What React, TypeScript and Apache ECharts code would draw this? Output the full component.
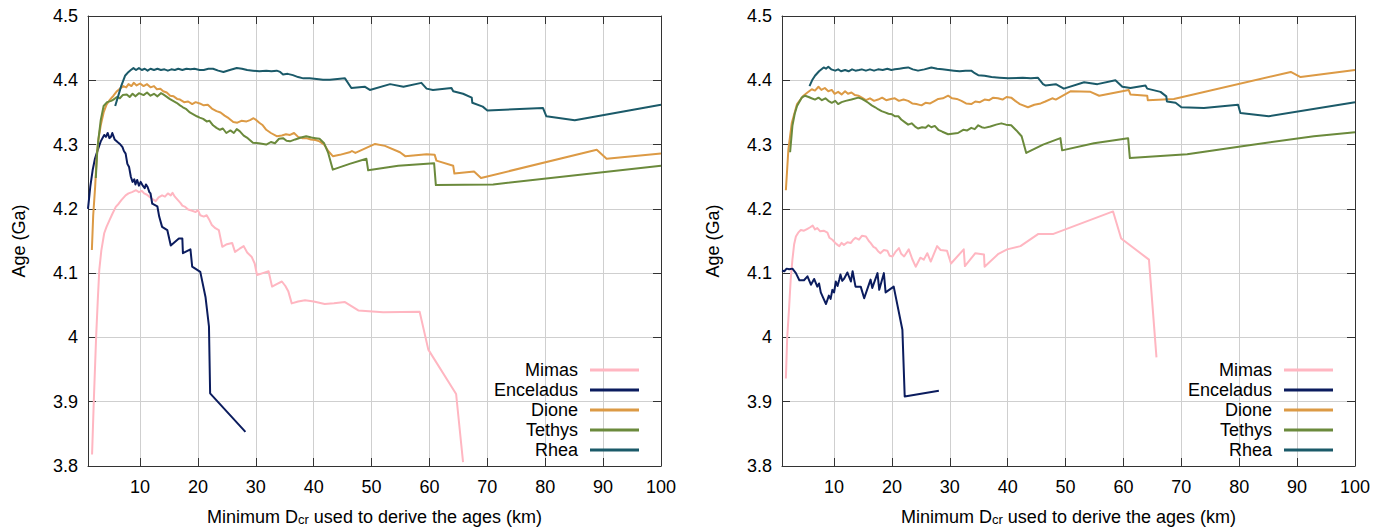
import { useEffect, useRef } from "react";
import * as echarts from "echarts";

type Pt = [number, number];

const seriesNames = ["Mimas", "Enceladus", "Dione", "Tethys", "Rhea"];
const seriesColors = ["#ffb6c1", "#0b1c5e", "#dc9a45", "#6b8a3c", "#1b5a69"];
const xTickValues = [10, 20, 30, 40, 50, 60, 70, 80, 90, 100];
const xRange = [1, 100];
const yRange = [3.8, 4.5];
const yStep = 0.1;
const xTitleRich = "{a|Minimum D}{s|cr}{a|\u00a0used to derive the ages (km)}";
const yTitle = "Age (Ga)";

// ---- left panel ----
const mimasLeft: Pt[] = [
  [1.7, 3.818], [2.0, 3.9], [2.4, 4.0], [2.7, 4.06], [2.95, 4.105], [3.3, 4.135], [3.8, 4.162],
  [4.2, 4.172], [4.7, 4.182], [5.2, 4.192], [5.8, 4.203], [6.3, 4.208], [6.8, 4.214], [7.5, 4.221],
  [8.0, 4.224], [8.6, 4.226], [9.3, 4.229], [9.8, 4.226], [10.3, 4.228], [10.7, 4.224], [11.2, 4.222],
  [11.7, 4.218], [12.2, 4.215], [12.7, 4.212], [13.2, 4.218], [13.8, 4.221], [14.3, 4.219], [14.8, 4.224],
  [15.3, 4.221], [15.6, 4.225], [16.0, 4.219], [16.5, 4.214], [17.0, 4.209], [17.3, 4.205], [17.8, 4.203],
  [18.3, 4.199], [19.0, 4.197], [19.6, 4.195], [20.0, 4.198], [20.4, 4.19], [21.0, 4.188], [21.5, 4.19],
  [21.9, 4.184], [22.4, 4.175], [23.0, 4.17], [23.6, 4.167], [24.2, 4.141], [25.0, 4.145], [25.9, 4.147],
  [26.4, 4.133], [27.2, 4.138], [27.9, 4.142], [28.5, 4.132], [29.3, 4.125], [29.8, 4.115], [30.2, 4.097],
  [31.2, 4.1], [32.2, 4.103], [32.8, 4.079], [33.6, 4.083], [34.5, 4.087], [35.1, 4.08], [35.6, 4.072],
  [36.2, 4.053], [37.3, 4.056], [38.5, 4.058], [40.0, 4.056], [41.9, 4.052], [43.5, 4.053], [45.4, 4.055],
  [47.7, 4.042], [52, 4.039], [58.3, 4.04], [59.8, 3.981], [64.6, 3.912], [65.8, 3.806],
];
const enceladusLeft: Pt[] = [
  [1.0, 4.2], [1.4, 4.235], [1.8, 4.26], [2.2, 4.278], [2.66, 4.291], [3.2, 4.305], [3.8, 4.315],
  [4.1, 4.312], [4.4, 4.318], [4.7, 4.31], [4.96, 4.312], [5.2, 4.318], [5.6, 4.308], [6.1, 4.304],
  [6.5, 4.301], [6.96, 4.296], [7.2, 4.29], [7.5, 4.286], [7.8, 4.27], [8.1, 4.265], [8.4, 4.25],
  [8.7, 4.242], [9.0, 4.246], [9.2, 4.238], [9.5, 4.245], [9.8, 4.236], [10.1, 4.242], [10.4, 4.237],
  [10.8, 4.232], [11.0, 4.238], [11.3, 4.234], [11.6, 4.226], [11.8, 4.224], [12.1, 4.208], [12.98, 4.204],
  [13.3, 4.188], [13.8, 4.172], [14.7, 4.167], [15.3, 4.143], [16.7, 4.154], [17.3, 4.154], [17.4, 4.131],
  [18.7, 4.137], [19.0, 4.11], [20.4, 4.102], [21.3, 4.063], [21.9, 4.017], [22.1, 3.913], [28.2, 3.853],
];
const dioneLeft: Pt[] = [
  [1.67, 4.136], [1.9, 4.19], [2.24, 4.235], [2.5, 4.28], [2.8, 4.308], [3.2, 4.33], [3.7, 4.35],
  [4.2, 4.362], [4.8, 4.37], [5.4, 4.376], [6.0, 4.383], [6.5, 4.387], [7.1, 4.391], [7.6, 4.389],
  [8.0, 4.394], [8.5, 4.391], [8.9, 4.396], [9.4, 4.392], [10.0, 4.395], [10.6, 4.391], [11.2, 4.394],
  [11.8, 4.389], [12.4, 4.391], [12.9, 4.386], [13.5, 4.387], [14.0, 4.383], [14.6, 4.381], [15.2, 4.376],
  [15.8, 4.375], [16.4, 4.371], [16.9, 4.37], [17.6, 4.366], [18.3, 4.367], [19.0, 4.363], [19.6, 4.366],
  [20.3, 4.364], [21.0, 4.361], [21.7, 4.362], [22.4, 4.356], [23.2, 4.352], [23.9, 4.35], [24.6, 4.345],
  [25.3, 4.341], [26.1, 4.335], [26.8, 4.334], [27.5, 4.337], [28.4, 4.336], [29.0, 4.338], [29.6, 4.341],
  [30.1, 4.338], [30.6, 4.334], [31.2, 4.33], [31.8, 4.323], [32.6, 4.318], [33.6, 4.313], [34.5, 4.314],
  [35.2, 4.316], [35.9, 4.315], [36.6, 4.318], [37.3, 4.312], [38.0, 4.31], [38.7, 4.31], [39.5, 4.308],
  [40.3, 4.307], [41.0, 4.305], [41.8, 4.3], [42.5, 4.29], [43.3, 4.282], [44.5, 4.284], [46.2, 4.288],
  [46.6, 4.29], [47.2, 4.287], [50.6, 4.301], [52.3, 4.298], [54.9, 4.288], [55.8, 4.282], [59.5, 4.285],
  [60.9, 4.284], [61.2, 4.275], [64.1, 4.267], [64.3, 4.255], [67.7, 4.258], [68.9, 4.248], [88.9, 4.292],
  [90.6, 4.278], [100, 4.286],
];
const tethysLeft: Pt[] = [
  [2.35, 4.248], [2.6, 4.29], [2.8, 4.308], [3.2, 4.338], [3.7, 4.36], [4.3, 4.366], [5.0, 4.368],
  [5.4, 4.37], [6.0, 4.374], [6.5, 4.372], [7.0, 4.377], [7.7, 4.378], [8.2, 4.374], [8.7, 4.379],
  [9.2, 4.375], [9.8, 4.38], [10.6, 4.377], [11.2, 4.381], [11.8, 4.376], [12.4, 4.379], [13.0, 4.375],
  [13.6, 4.38], [14.0, 4.378], [14.5, 4.375], [15.1, 4.371], [15.7, 4.368], [16.3, 4.365], [16.9, 4.361],
  [17.4, 4.358], [18.0, 4.355], [18.6, 4.35], [19.2, 4.347], [19.8, 4.344], [20.3, 4.342], [20.9, 4.34],
  [21.5, 4.336], [22.0, 4.337], [22.6, 4.33], [23.2, 4.326], [23.8, 4.323], [24.3, 4.325], [24.9, 4.318],
  [25.6, 4.322], [26.2, 4.318], [26.7, 4.324], [27.2, 4.321], [27.9, 4.314], [28.6, 4.31], [29.5, 4.303],
  [30.5, 4.302], [31.8, 4.3], [32.6, 4.304], [33.3, 4.302], [34.0, 4.309], [34.7, 4.31], [35.3, 4.306],
  [35.9, 4.305], [36.8, 4.308], [37.8, 4.311], [38.7, 4.313], [39.6, 4.311], [40.3, 4.31], [41.0, 4.309],
  [41.8, 4.302], [42.5, 4.287], [43.3, 4.261], [46.2, 4.27], [49.1, 4.278], [49.4, 4.26], [54.6, 4.267],
  [60.8, 4.271], [61.1, 4.237], [71, 4.238], [100, 4.267],
];
const rheaLeft: Pt[] = [
  [5.7, 4.36], [6.2, 4.375], [6.7, 4.39], [7.4, 4.407], [8.0, 4.413], [8.4, 4.416], [8.85, 4.419],
  [9.3, 4.416], [9.8, 4.419], [10.3, 4.416], [10.8, 4.418], [11.3, 4.415], [11.8, 4.418], [12.4, 4.416],
  [13.0, 4.418], [13.6, 4.416], [14.2, 4.417], [14.8, 4.415], [15.4, 4.417], [16.0, 4.416], [16.6, 4.418],
  [17.3, 4.416], [18.0, 4.418], [18.7, 4.417], [19.4, 4.418], [20.3, 4.416], [21.0, 4.416], [21.8, 4.418],
  [22.6, 4.418], [23.5, 4.415], [24.4, 4.413], [25.5, 4.416], [26.7, 4.419], [27.6, 4.418], [28.5, 4.416],
  [29.5, 4.415], [30.6, 4.414], [31.8, 4.415], [32.7, 4.414], [33.6, 4.415], [34.2, 4.413], [34.7, 4.409],
  [35.5, 4.41], [36.4, 4.408], [37.3, 4.405], [38.2, 4.403], [39.3, 4.403], [40.5, 4.402], [41.6, 4.401],
  [42.8, 4.401], [45.4, 4.403], [46.5, 4.388], [48.8, 4.39], [49.7, 4.385], [53.2, 4.394], [55.5, 4.39],
  [58.6, 4.396], [59.5, 4.387], [60.6, 4.385], [63.8, 4.388], [64.1, 4.383], [65.8, 4.379], [67.3, 4.373],
  [67.4, 4.365], [69.2, 4.359], [70, 4.353], [79.6, 4.357], [80.2, 4.344], [85.1, 4.338], [100, 4.362],
];

// ---- right panel ----
const mimasRight: Pt[] = [
  [1.67, 3.936], [1.9, 4.0], [2.24, 4.048], [2.5, 4.09], [2.8, 4.121], [3.1, 4.145], [3.4, 4.157],
  [3.8, 4.163], [4.25, 4.167], [4.8, 4.166], [5.4, 4.169], [5.8, 4.171], [6.3, 4.174], [6.7, 4.168],
  [7.1, 4.17], [7.6, 4.165], [8.2, 4.166], [8.85, 4.163], [9.2, 4.155], [9.7, 4.152], [10.2, 4.147],
  [10.6, 4.144], [10.9, 4.142], [11.3, 4.147], [11.7, 4.144], [12.3, 4.148], [12.9, 4.147], [13.3, 4.152],
  [13.7, 4.155], [14.3, 4.152], [14.8, 4.158], [15.5, 4.157], [16.0, 4.15], [16.3, 4.147], [16.8, 4.141],
  [17.2, 4.139], [17.6, 4.134], [18.0, 4.131], [18.6, 4.136], [19.2, 4.135], [19.6, 4.127], [20.1, 4.126],
  [20.6, 4.133], [21.2, 4.139], [21.6, 4.13], [22.1, 4.126], [22.9, 4.137], [23.5, 4.122], [24.1, 4.11],
  [24.9, 4.124], [25.5, 4.121], [26.1, 4.131], [26.7, 4.118], [27.8, 4.142], [28.4, 4.136], [29.5, 4.135],
  [30.2, 4.115], [32.4, 4.137], [32.6, 4.111], [34.4, 4.131], [35.9, 4.129], [36.0, 4.11], [38.4, 4.13],
  [39.9, 4.137], [42.2, 4.142], [45.3, 4.161], [47.9, 4.161], [58.2, 4.196], [59.6, 4.154], [64.4, 4.121],
  [65.7, 3.969],
];
const enceladusRight: Pt[] = [
  [1.0, 4.104], [1.4, 4.103], [1.8, 4.107], [2.24, 4.106], [2.8, 4.107], [3.4, 4.1], [4.0, 4.089],
  [4.8, 4.089], [5.4, 4.095], [6.0, 4.082], [6.55, 4.091], [7.1, 4.079], [7.4, 4.084], [7.7, 4.07],
  [8.1, 4.062], [8.6, 4.052], [9.1, 4.065], [9.4, 4.06], [9.7, 4.074], [10.0, 4.07], [10.3, 4.087],
  [10.6, 4.08], [10.9, 4.09], [11.1, 4.098], [11.4, 4.088], [11.7, 4.091], [12.0, 4.096], [12.3, 4.101],
  [12.6, 4.094], [12.9, 4.087], [13.2, 4.103], [13.7, 4.079], [14.6, 4.079], [15.2, 4.061], [16.3, 4.09],
  [16.6, 4.077], [17.5, 4.1], [17.8, 4.074], [18.6, 4.1], [18.9, 4.07], [20.3, 4.079], [21.8, 4.012],
  [22.2, 3.908], [28.1, 3.917],
];
const dioneRight: Pt[] = [
  [1.67, 4.229], [2.1, 4.292], [2.7, 4.334], [3.6, 4.363], [4.7, 4.376], [5.4, 4.381], [6.15, 4.386],
  [6.7, 4.384], [7.3, 4.39], [7.8, 4.385], [8.4, 4.388], [9.0, 4.383], [9.6, 4.385], [10.1, 4.379],
  [10.7, 4.382], [11.3, 4.378], [11.9, 4.383], [12.4, 4.379], [13.0, 4.381], [13.6, 4.377], [14.2, 4.376],
  [14.8, 4.373], [15.5, 4.369], [16.2, 4.372], [16.9, 4.368], [17.6, 4.37], [18.3, 4.373], [19.0, 4.369],
  [19.8, 4.371], [20.5, 4.372], [21.2, 4.368], [22.0, 4.37], [22.8, 4.368], [23.5, 4.364], [24.2, 4.363],
  [25.1, 4.361], [25.8, 4.365], [26.6, 4.364], [27.4, 4.368], [28.0, 4.371], [28.8, 4.372], [29.7, 4.376],
  [30.4, 4.372], [31.2, 4.371], [32.0, 4.368], [32.8, 4.364], [33.7, 4.363], [34.4, 4.367], [35.2, 4.366],
  [36.0, 4.37], [36.8, 4.369], [37.5, 4.373], [38.3, 4.372], [39.1, 4.37], [39.8, 4.374], [40.6, 4.373],
  [41.3, 4.368], [42.1, 4.363], [43.5, 4.358], [44.6, 4.362], [45.7, 4.364], [46.5, 4.367], [47.7, 4.372],
  [48.3, 4.37], [50.9, 4.383], [54.3, 4.382], [55.8, 4.376], [60.9, 4.385], [61.2, 4.378], [64.1, 4.376],
  [64.2, 4.369], [68.7, 4.371], [88.9, 4.413], [90.6, 4.405], [100, 4.416],
];
const tethysRight: Pt[] = [
  [2.4, 4.288], [2.8, 4.329], [3.2, 4.348], [3.6, 4.36], [4.4, 4.373], [5.0, 4.376], [5.6, 4.374],
  [6.1, 4.372], [6.7, 4.37], [7.3, 4.373], [7.9, 4.369], [8.5, 4.372], [9.0, 4.368], [9.6, 4.365],
  [10.2, 4.368], [10.7, 4.363], [11.3, 4.366], [12.0, 4.368], [13.0, 4.37], [14.2, 4.373], [14.8, 4.371],
  [15.4, 4.368], [15.9, 4.365], [16.5, 4.361], [17.1, 4.358], [17.6, 4.355], [18.2, 4.352], [18.8, 4.35],
  [19.4, 4.348], [20.0, 4.347], [20.5, 4.344], [21.1, 4.344], [21.6, 4.339], [22.2, 4.335], [22.8, 4.331],
  [23.4, 4.333], [24.0, 4.328], [24.5, 4.325], [25.2, 4.327], [25.8, 4.326], [26.3, 4.33], [26.8, 4.327],
  [27.4, 4.329], [28.0, 4.323], [28.7, 4.32], [29.2, 4.318], [29.7, 4.316], [30.4, 4.317], [31.4, 4.318],
  [32.3, 4.323], [33.0, 4.322], [33.7, 4.326], [34.3, 4.324], [34.9, 4.33], [35.5, 4.327], [36.0, 4.326],
  [37.0, 4.328], [38.0, 4.331], [38.9, 4.333], [39.7, 4.331], [40.6, 4.33], [41.5, 4.322], [42.4, 4.313],
  [43.2, 4.287], [46.1, 4.3], [49.1, 4.31], [49.4, 4.291], [54.9, 4.302], [60.8, 4.31], [61.1, 4.279],
  [71, 4.285], [80.2, 4.297], [92.9, 4.313], [100, 4.319],
];
const rheaRight: Pt[] = [
  [5.75, 4.391], [6.2, 4.4], [6.7, 4.407], [7.4, 4.414], [8.2, 4.42], [8.6, 4.418], [9.0, 4.421],
  [9.5, 4.417], [10.2, 4.415], [10.7, 4.417], [11.2, 4.414], [11.9, 4.416], [12.5, 4.414], [13.1, 4.417],
  [13.7, 4.415], [14.3, 4.416], [14.8, 4.417], [15.5, 4.415], [16.2, 4.417], [16.9, 4.415], [17.6, 4.417],
  [18.4, 4.416], [19.2, 4.418], [19.9, 4.416], [20.5, 4.417], [21.3, 4.418], [22.0, 4.419], [22.8, 4.42],
  [23.6, 4.417], [24.5, 4.415], [25.6, 4.417], [26.8, 4.42], [27.8, 4.418], [28.7, 4.417], [29.7, 4.416],
  [30.7, 4.415], [31.7, 4.414], [32.7, 4.415], [33.7, 4.415], [34.3, 4.411], [34.9, 4.408], [36.0, 4.407],
  [37.2, 4.405], [38.6, 4.404], [40.1, 4.403], [42.6, 4.404], [44.0, 4.403], [45.2, 4.404], [46.1, 4.394],
  [46.5, 4.392], [48.3, 4.394], [49.7, 4.387], [53.2, 4.397], [55.5, 4.394], [58.6, 4.4], [59.8, 4.39],
  [61.2, 4.388], [63.8, 4.392], [64.1, 4.387], [66.4, 4.382], [67.4, 4.375], [67.5, 4.367], [69, 4.365],
  [70, 4.358], [73.9, 4.357], [79.8, 4.362], [80.2, 4.349], [85.1, 4.344], [100, 4.366],
];

const leftPanel = [mimasLeft, enceladusLeft, dioneLeft, tethysLeft, rheaLeft];
const rightPanel = [mimasRight, enceladusRight, dioneRight, tethysRight, rheaRight];

const FONT = "'Liberation Sans', Arial, Helvetica, sans-serif";
const AXIS_COLOR = "#333333";
const GRID_COLOR = "#cfcfcf";

const panels = [
  { left: 88, data: leftPanel, legendRight: 751 },
  { left: 782, data: rightPanel, legendRight: 57 },
];

function buildOption(): echarts.EChartsOption {
  const grid: any[] = [];
  const xAxis: any[] = [];
  const yAxis: any[] = [];
  const series: any[] = [];
  const legend: any[] = [];

  panels.forEach((p, gi) => {
    grid.push({ left: p.left, top: 16, width: 573, height: 450, outerBoundsMode: "none", containLabel: false });

    const axisLine = { show: true, lineStyle: { color: AXIS_COLOR, width: 1 } };
    const tick = { show: true, inside: true, length: 8, lineStyle: { color: AXIS_COLOR, width: 1 } };

    // bottom and top x axes
    xAxis.push({
      type: "value",
      gridIndex: gi,
      min: xRange[0],
      max: xRange[1],
      position: "bottom",
      axisLine,
      axisTick: { ...tick, customValues: xTickValues },
      axisLabel: {
        customValues: xTickValues,
        color: "#000",
        fontSize: 18,
        fontFamily: FONT,
        margin: 12,
      },
      splitLine: { show: true, lineStyle: { color: GRID_COLOR, width: 1 } },
      name: xTitleRich,
      nameLocation: "middle",
      nameGap: 42,
      nameTextStyle: {
        color: "#000",
        fontFamily: FONT,
        rich: {
          a: { fontSize: 18, fontFamily: FONT, color: "#000", verticalAlign: "top", lineHeight: 18 },
          s: {
            fontSize: 13,
            fontFamily: FONT,
            color: "#000",
            verticalAlign: "bottom",
            lineHeight: 13,
            padding: [9, 0, 0, 0],
          },
        },
      },
    });
    xAxis.push({
      type: "value",
      gridIndex: gi,
      min: xRange[0],
      max: xRange[1],
      position: "top",
      axisLine,
      axisTick: { ...tick, customValues: xTickValues },
      axisLabel: { show: false, customValues: xTickValues },
      splitLine: { show: false },
    });

    // left and right y axes
    const yCommon = {
      type: "value",
      gridIndex: gi,
      min: yRange[0],
      max: yRange[1],
      interval: yStep,
      axisLine,
      axisTick: tick,
    };
    yAxis.push({
      ...yCommon,
      position: "left",
      axisLabel: {
        color: "#000",
        fontSize: 18,
        fontFamily: FONT,
        margin: 10,
        formatter: (v: number) => String(Math.round(v * 10) / 10),
      },
      splitLine: { show: true, lineStyle: { color: GRID_COLOR, width: 1 } },
      name: yTitle,
      nameLocation: "middle",
      nameGap: 60,
      nameTextStyle: { color: "#000", fontSize: 18, fontFamily: FONT },
    });
    yAxis.push({
      ...yCommon,
      position: "right",
      axisLabel: { show: false },
      splitLine: { show: false },
    });

    p.data.forEach((pts, si) => {
      series.push({
        type: "line",
        name: seriesNames[si],
        xAxisIndex: gi * 2,
        yAxisIndex: gi * 2,
        data: pts,
        symbol: "none",
        showSymbol: false,
        silent: true,
        clip: true,
        lineStyle: { color: seriesColors[si], width: 2, join: "round" },
        itemStyle: { color: seriesColors[si] },
        emphasis: { disabled: true },
      });
    });

    legend.push({
      orient: "vertical",
      right: p.legendRight,
      top: 361,
      align: "right",
      padding: 0,
      itemGap: 2,
      itemWidth: 49,
      itemHeight: 3,
      icon: "rect",
      selectedMode: false,
      data: seriesNames,
      formatter: "{t|{name}}",
      textStyle: {
        color: "#000",
        fontSize: 18,
        fontFamily: FONT,
        rich: {
          t: { fontSize: 18, fontFamily: FONT, color: "#000", lineHeight: 20, padding: [0, 7, 0, 0] },
        },
      },
    });
  });

  return {
    animation: false,
    backgroundColor: "#ffffff",
    textStyle: { fontFamily: FONT },
    grid,
    xAxis,
    yAxis,
    series,
    legend,
  };
}

export default function App() {
  const ref = useRef<HTMLDivElement>(null);

  useEffect(() => {
    document.body.style.margin = "0";
    if (!ref.current) return;
    const chart = echarts.init(ref.current, undefined, { renderer: "svg" });
    chart.setOption(buildOption());
    return () => {
      chart.dispose();
    };
  }, []);

  return <div ref={ref} style={{ width: 1390, height: 527 }} />;
}
